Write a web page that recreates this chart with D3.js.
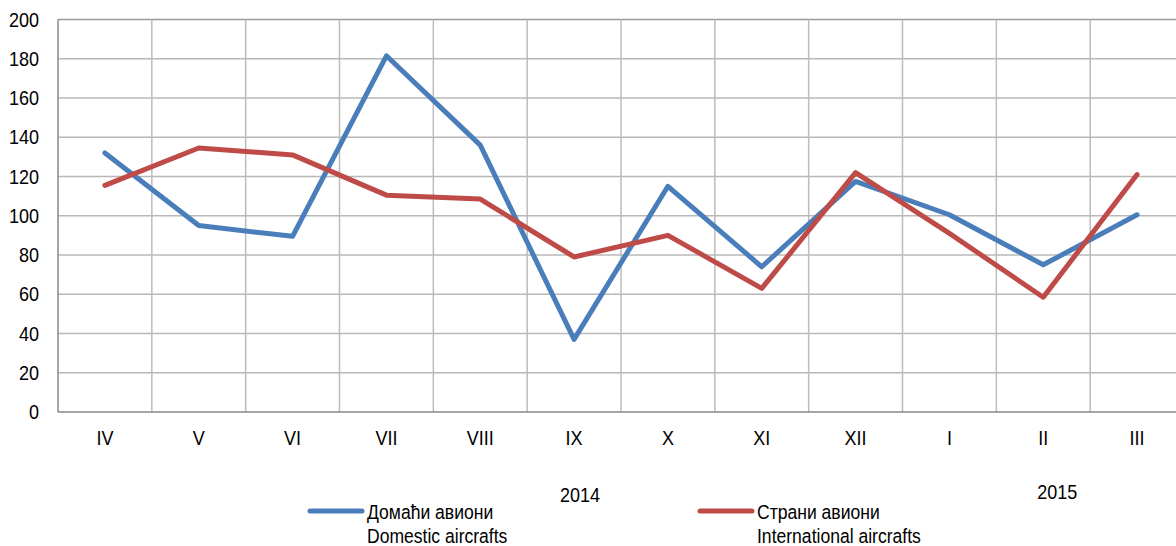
<!DOCTYPE html>
<html>
<head>
<meta charset="utf-8">
<script src="https://cdn.jsdelivr.net/npm/d3@7"></script>
<style>
  body { margin: 0; background: #fff; }
  svg text { font-family: "Liberation Sans", Arial, sans-serif; fill: #000; }
</style>
</head>
<body>
<svg width="1176" height="546"></svg>
<script>
// months and values
let months = ["IV", "V", "VI", "VII", "VIII", "IX", "X", "XI", "XII", "I", "II", "III"];
let domestic = [132, 95, 89.5, 181.5, 136, 37, 115, 74, 117.5, 100.5, 75, 100.5];
let international = [115.5, 134.5, 131, 110.5, 108.5, 79, 90, 63, 122, 91, 58.5, 121];
let yTicks = [0, 20, 40, 60, 80, 100, 120, 140, 160, 180, 200];
let years = [{ label: "2014", month: "IX", dx: 6, dy: 83 }, { label: "2015", month: "II", dx: 14, dy: 80 }];

let svg = d3.select("svg");

let plotLeft = 58, plotTop = 19.5, plotBottom = 412, plotRight = 1184;
let squeeze = 0.9; // the original font is a narrow one

let x = d3.scaleBand().domain(months).range([plotLeft, plotRight]);
let y = d3.scaleLinear().domain([0, 200]).range([plotBottom, plotTop]);

function place(px, py) {
    return "translate(" + px + "," + py + ") scale(" + squeeze + ",1)";
}

// horizontal grid
svg.append("g")
    .selectAll("line")
    .data(yTicks.filter(d => d > 0))
    .enter()
    .append("line")
    .attr("x1", plotLeft).attr("x2", plotRight)
    .attr("y1", d => y(d)).attr("y2", d => y(d))
    .attr("stroke", d => d == 200 ? "#999" : "#b8b8b8")
    .attr("stroke-width", 1.5);

// vertical grid between months
svg.append("g")
    .selectAll("line")
    .data(months.slice(1))
    .enter()
    .append("line")
    .attr("x1", d => x(d)).attr("x2", d => x(d))
    .attr("y1", plotTop).attr("y2", plotBottom)
    .attr("stroke", "#bcbcbc")
    .attr("stroke-width", 1.5);

// axes lines
svg.append("line")
    .attr("x1", plotLeft).attr("x2", plotLeft)
    .attr("y1", plotTop).attr("y2", plotBottom)
    .attr("stroke", "#888").attr("stroke-width", 1.5);
svg.append("line")
    .attr("x1", plotLeft).attr("x2", plotRight)
    .attr("y1", plotBottom).attr("y2", plotBottom)
    .attr("stroke", "#888").attr("stroke-width", 1.5);

// y tick labels
svg.append("g")
    .selectAll("text")
    .data(yTicks)
    .enter()
    .append("text")
    .attr("transform", d => place(39, y(d) + 7))
    .attr("text-anchor", "end")
    .attr("font-size", 20)
    .text(d => d);

// x tick labels
svg.append("g")
    .selectAll("text")
    .data(months)
    .enter()
    .append("text")
    .attr("transform", d => place(x(d) + x.bandwidth() / 2, 445))
    .attr("text-anchor", "middle")
    .attr("font-size", 20)
    .text(d => d);

// years
svg.append("g")
    .selectAll("text")
    .data(years)
    .enter()
    .append("text")
    .attr("transform", d => place(x(d.month) + x.bandwidth() / 2 + d.dx, plotBottom + d.dy + 7))
    .attr("text-anchor", "middle")
    .attr("font-size", 20)
    .text(d => d.label);

// lines
let line = d3.line()
    .x((d, i) => x(months[i]) + x.bandwidth() / 2)
    .y(d => y(d));

let series = [
  { values: domestic, color: "#4a7ebb", name: ["Домаћи авиони", "Domestic aircrafts"], lx: 310 },
  { values: international, color: "#be4b48", name: ["Страни авиони", "International aircrafts"], lx: 700 }
];

svg.append("g")
    .selectAll("path")
    .data(series)
    .enter()
    .append("path")
    .attr("d", d => line(d.values))
    .attr("fill", "none")
    .attr("stroke", d => d.color)
    .attr("stroke-width", 5)
    .attr("stroke-linejoin", "round")
    .attr("stroke-linecap", "round");

// legend
let leg = svg.append("g")
    .selectAll("g")
    .data(series)
    .enter()
    .append("g");

leg.append("line")
    .attr("x1", d => d.lx).attr("x2", d => d.lx + 52)
    .attr("y1", 511).attr("y2", 511)
    .attr("stroke", d => d.color)
    .attr("stroke-width", 5)
    .attr("stroke-linecap", "round");

leg.append("text")
    .attr("transform", d => place(d.lx + 57, 519))
    .attr("font-size", 19.5)
    .text(d => d.name[0]);

leg.append("text")
    .attr("transform", d => place(d.lx + 57, 543))
    .attr("font-size", 19.5)
    .text(d => d.name[1]);
</script>
</body>
</html>
